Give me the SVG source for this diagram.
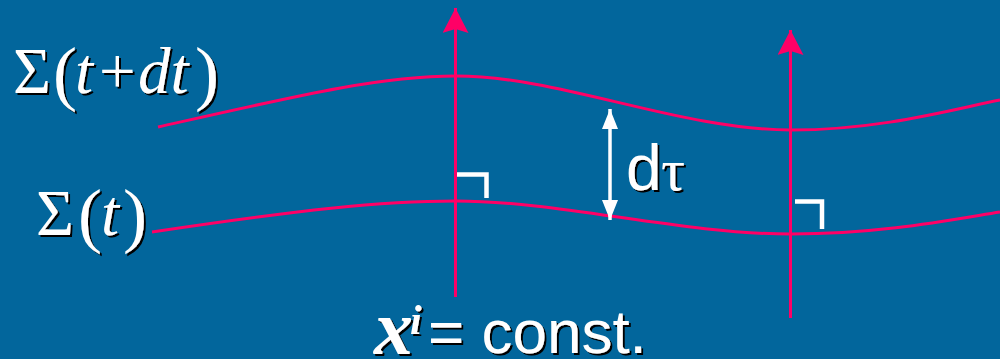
<svg xmlns="http://www.w3.org/2000/svg" width="1000" height="359" viewBox="0 0 1000 359">
<defs>
<filter id="sh" x="-10%" y="-10%" width="130%" height="130%">
<feDropShadow dx="2" dy="2" stdDeviation="0.4" flood-color="#000" flood-opacity="1"/>
</filter>
<marker id="pinkHead" viewBox="0 0 26 26" refX="25" refY="13" markerWidth="26" markerHeight="26" markerUnits="userSpaceOnUse" orient="auto">
<path d="M25,13 L0,0 L4,13 L0,26 Z" fill="#FF0066"/>
</marker>
<marker id="whiteHead" viewBox="0 0 20 16" refX="20" refY="8" markerWidth="20" markerHeight="16" markerUnits="userSpaceOnUse" orient="auto-start-reverse">
<path d="M20,8 L0,0 L0,16 Z" fill="#FFFFFF"/>
</marker>
</defs>
<style>
.surf{fill:none;stroke:#FF0066;stroke-width:3}
.norm{fill:none;stroke:#FF0066;stroke-width:3}
.ra{fill:none;stroke:#FFFFFF;stroke-width:4.5}
.serif{font-family:"Liberation Serif","Times New Roman",serif;fill:#FFFFFF}
.sans{font-family:"Liberation Sans",Arial,sans-serif;fill:#FFFFFF}
.it{font-style:italic}
.lbl{filter:url(#sh)}
</style>
<rect x="0" y="0" width="1000" height="359" fill="#02669C"/>
<g id="connectors">
<path id="sigma-t-dt" class="surf" d="M158,127 C300,95 380,76 456,76 C560,76 680,130 791,130 C880,130 950,110 1000,100"/>
<path id="sigma-t" class="surf" d="M152,232 C300,210 380,201 456,201 C560,201 680,234 791,234 C880,234 950,220 1000,212"/>
<line id="normal-1" class="norm" x1="455.5" y1="297" x2="455.5" y2="8" marker-end="url(#pinkHead)"/>
<line id="normal-2" class="norm" x1="790.5" y1="318" x2="790.5" y2="30" marker-end="url(#pinkHead)"/>
<line id="dtau-arrow" stroke="#FFFFFF" stroke-width="3.5" x1="610" y1="109" x2="610" y2="220" marker-start="url(#whiteHead)" marker-end="url(#whiteHead)"/>
<path id="right-angle-1" class="ra" d="M457,174.5 L486.5,174.5 L486.5,198"/>
<path id="right-angle-2" class="ra" d="M795,201.5 L822,201.5 L822,229"/>
</g>
<g id="label-sigma-t-dt" class="lbl">
<text class="serif" y="93" font-size="65"><tspan x="13">Σ</tspan><tspan x="53" y="97" font-size="72">(</tspan><tspan x="75" y="93" class="it">t</tspan><tspan x="99">+</tspan><tspan x="138" class="it">dt</tspan><tspan x="195" y="97" font-size="72">)</tspan></text>
</g>
<g id="label-sigma-t" class="lbl">
<text class="serif" y="235" font-size="65"><tspan x="36">Σ</tspan><tspan x="78" y="239" font-size="72">(</tspan><tspan x="101" y="235" class="it">t</tspan><tspan x="123" y="239" font-size="72">)</tspan></text>
</g>
<g id="label-dtau" class="lbl">
<text y="190" font-size="64"><tspan class="sans" x="626">d</tspan><tspan class="serif" x="661" font-size="60">τ</tspan></text>
</g>
<g id="label-xi-const" class="lbl">
<text y="353"><tspan class="serif it" font-weight="bold" font-size="78" x="374" y="354">x</tspan><tspan class="serif it" font-weight="bold" font-size="42" x="410" y="334">i</tspan><tspan class="sans" font-size="62" x="428" y="353">= const.</tspan></text>
</g>
</svg>
